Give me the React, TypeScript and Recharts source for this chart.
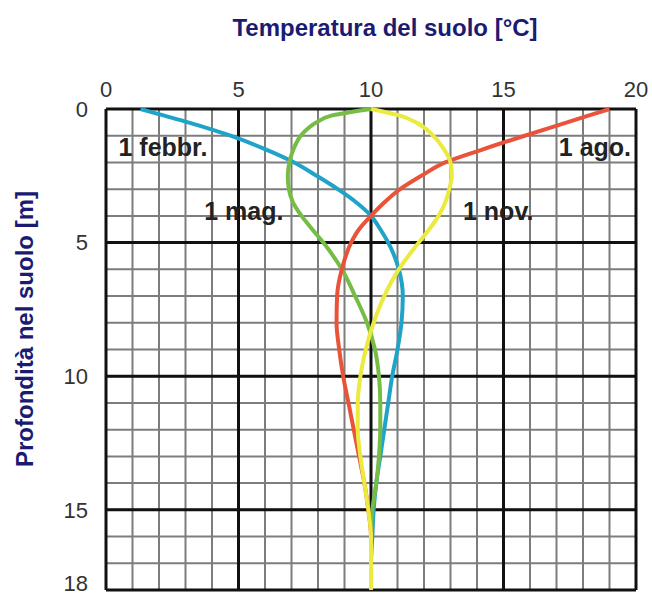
import React from "react";
import { LineChart, Line, XAxis, YAxis, CartesianGrid, ReferenceLine, ReferenceDot } from "recharts";

// depth below ground [m]
const depth = [0, 0.25, 0.5, 1, 1.5, 2, 2.5, 3, 3.5, 4, 4.5, 5, 6, 7, 8, 9, 10, 11, 12, 13, 14, 15, 16, 17, 18];

// soil temperature [°C] per date
const febbraio = [1.3, 2.2, 3.1, 4.7, 6.0, 7.1, 7.95, 8.75, 9.45, 10.0, 10.35, 10.65, 11.05, 11.2, 11.15, 11.0, 10.8, 10.65, 10.5, 10.35, 10.2, 10.1, 10.05, 10.0, 10.0];
const maggio = [10.0, 8.5, 7.95, 7.35, 7.08, 6.92, 6.86, 6.9, 7.06, 7.38, 7.78, 8.2, 8.9, 9.4, 9.85, 10.15, 10.3, 10.35, 10.35, 10.3, 10.2, 10.05, 10.0, 10.0, 10.0];
const agosto = [19.0, 18.2, 17.4, 15.8, 14.25, 12.8, 11.9, 11.1, 10.5, 10.0, 9.55, 9.25, 8.9, 8.72, 8.7, 8.8, 8.95, 9.15, 9.35, 9.55, 9.75, 9.9, 10.0, 10.0, 10.0];
const novembre = [10.0, 11.1, 11.7, 12.35, 12.75, 13.0, 13.05, 12.95, 12.8, 12.55, 12.2, 11.8, 11.05, 10.5, 10.1, 9.8, 9.6, 9.5, 9.5, 9.6, 9.75, 9.9, 10.0, 10.0, 10.0];

const tempTicks = [0, 5, 10, 15, 20];
const depthTicks = [0, 5, 10, 15, 18];
const tempMinor = [0, 1, 2, 3, 4, 5, 6, 7, 8, 9, 10, 11, 12, 13, 14, 15, 16, 17, 18, 19, 20];
const depthMinor = [0, 1, 2, 3, 4, 5, 6, 7, 8, 9, 10, 11, 12, 13, 14, 15, 16, 17, 18];

// curve labels: text, temperature, depth
const curveLabels = [
  { text: "1 febbr.", t: 2.15, d: 1.44 },
  { text: "1 mag.", t: 5.2, d: 3.84 },
  { text: "1 ago.", t: 18.45, d: 1.44 },
  { text: "1 nov.", t: 14.8, d: 3.84 },
];

const data = depth.map((d, i) => ({
  depth: d,
  feb: febbraio[i],
  mag: maggio[i],
  ago: agosto[i],
  nov: novembre[i],
}));

const font = "'Liberation Sans', Arial, sans-serif";
const navy = "#1b1b72";

export default function App() {
  return (
    <div style={{ position: "absolute", left: 0, top: 0, width: 652, height: 596, background: "#fff", fontFamily: font }}>
      <div
        style={{
          position: "absolute",
          left: 385,
          top: 16,
          transform: "translateX(-50%)",
          whiteSpace: "nowrap",
          fontSize: 24,
          lineHeight: "24px",
          fontWeight: "bold",
          color: navy,
        }}
      >
        Temperatura del suolo [°C]
      </div>
      <div
        style={{
          position: "absolute",
          left: 25,
          top: 329,
          transform: "translate(-50%, -50%) rotate(-90deg)",
          whiteSpace: "nowrap",
          fontSize: 24,
          lineHeight: "24px",
          fontWeight: "bold",
          color: navy,
        }}
      >
        Profondità nel suolo [m]
      </div>
      <LineChart
        layout="vertical"
        width={652}
        height={596}
        data={data}
        margin={{ top: 79, right: 16, bottom: 6, left: 56 }}
      >
        <CartesianGrid
          stroke="#7d7d7d"
          strokeWidth={2}
          verticalValues={tempMinor}
          horizontalValues={depthMinor}
        />
        <XAxis
          type="number"
          orientation="top"
          domain={[0, 20]}
          ticks={tempTicks}
          axisLine={false}
          tickLine={false}
          tickSize={0}
          tickMargin={12}
          height={30}
          tick={{ fontSize: 22, fill: "#333", fontFamily: font }}
        />
        <YAxis
          type="number"
          dataKey="depth"
          domain={[0, 18]}
          ticks={depthTicks}
          axisLine={false}
          tickLine={false}
          tickSize={0}
          tickMargin={18}
          width={50}
          tick={{ fontSize: 22, fill: "#333", fontFamily: font }}
        />
        {tempTicks.map((t) => (
          <ReferenceLine key={"x" + t} x={t} stroke="#111" strokeWidth={3} />
        ))}
        {depthTicks.map((d) => (
          <ReferenceLine key={"y" + d} y={d} stroke="#111" strokeWidth={3} />
        ))}
        {curveLabels.map((l) => (
          <ReferenceDot
            key={l.text}
            x={l.t}
            y={l.d}
            r={0}
            fill="none"
            stroke="none"
            label={{
              value: l.text,
              position: "center",
              fill: "#222",
              fontSize: 25,
              fontWeight: "bold",
              fontFamily: font,
            }}
          />
        ))}
        <Line type="monotone" dataKey="feb" stroke="#1fa3c9" strokeWidth={4} dot={false} isAnimationActive={false} />
        <Line type="monotone" dataKey="mag" stroke="#76bd45" strokeWidth={4} dot={false} isAnimationActive={false} />
        <Line type="monotone" dataKey="ago" stroke="#e9533a" strokeWidth={4} dot={false} isAnimationActive={false} />
        <Line type="monotone" dataKey="nov" stroke="#ecea3e" strokeWidth={4} dot={false} isAnimationActive={false} />
      </LineChart>
    </div>
  );
}
